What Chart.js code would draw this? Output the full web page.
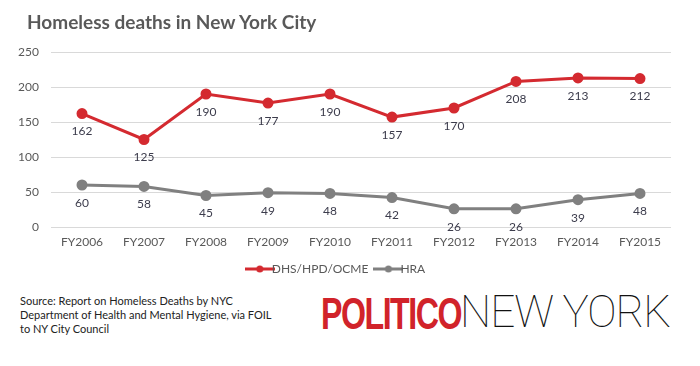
<!DOCTYPE html>
<html>
<head>
<meta charset="utf-8">
<script src="https://cdn.jsdelivr.net/npm/chart.js@4.4.1/dist/chart.umd.min.js"></script>
<style>
  body { margin: 0; background: #fff; font-family: Lato, "Open Sans", sans-serif; }
  #title { position: absolute; left: 27px; top: 10px; font-size: 19px; line-height: 24px; font-weight: bold; color: #595959; }
  #wrap { position: absolute; left: 0; top: 0; width: 700px; height: 285px; }
  #source { position: absolute; left: 20px; top: 294px; font-size: 11px; line-height: 14px; color: #222; }
  #logo { position: absolute; left: 321px; top: 289px; white-space: nowrap; font-size: 44px; line-height: 46px; }
  #logo span { display: inline-block; transform-origin: 0 50%; }
  #logo .p { color: #d1232a; font-family: "Liberation Sans", sans-serif; font-weight: bold; letter-spacing: -2px; transform: scaleX(0.73); }
  #logo .n { position: absolute; left: 139px; top: 0; color: #111; font-family: "Roboto", sans-serif; font-weight: 100; letter-spacing: -1px; }
</style>
</head>
<body>
<div id="wrap"><canvas id="chart"></canvas></div>
<div id="title">Homeless deaths in New York City</div>
<div id="source">Source: Report on Homeless Deaths by NYC<br>Department of Health and Mental Hygiene, via FOIL<br>to NY City Council</div>
<div id="logo"><span class="p">POLITICO</span><span class="n">NEW YORK</span></div>
<script>
const years = ["FY2006", "FY2007", "FY2008", "FY2009", "FY2010", "FY2011", "FY2012", "FY2013", "FY2014", "FY2015"];
const dhsDeaths = [162, 125, 190, 177, 190, 157, 170, 208, 213, 212];
const hraDeaths = [60, 58, 45, 49, 48, 42, 26, 26, 39, 48];

const RED = "#d42a30";
const GRAY = "#808080";
const FONT = "Lato, 'Open Sans', sans-serif";

// small line+dot swatch for the legend
function swatch(color) {
  const c = document.createElement("canvas");
  c.width = 30; c.height = 10;
  const g = c.getContext("2d");
  g.strokeStyle = color; g.lineWidth = 3;
  g.beginPath(); g.moveTo(0, 5); g.lineTo(30, 5); g.stroke();
  g.fillStyle = color;
  g.beginPath(); g.arc(15, 5, 3.5, 0, Math.PI * 2); g.fill();
  return c;
}
const swatches = [swatch(RED), swatch(GRAY)];

// value labels under each point
const valueLabels = {
  id: "valueLabels",
  afterDatasetsDraw(chart) {
    const ctx = chart.ctx;
    ctx.save();
    ctx.font = "12px " + FONT;
    ctx.fillStyle = "#3c3c4c";
    ctx.textAlign = "center";
    ctx.textBaseline = "middle";
    chart.data.datasets.forEach((ds, i) => {
      chart.getDatasetMeta(i).data.forEach((pt, j) => {
        ctx.fillText(ds.data[j], pt.x, pt.y + 18);
      });
    });
    ctx.restore();
  }
};

const ctx = document.getElementById("chart").getContext("2d");
const chart = new Chart(ctx, {
  type: "line",
  data: {
    labels: years,
    datasets: [
      { label: "DHS/HPD/OCME", data: dhsDeaths, borderColor: RED, backgroundColor: RED,
        borderWidth: 3, pointRadius: 4, pointHoverRadius: 4 },
      { label: "HRA", data: hraDeaths, borderColor: GRAY, backgroundColor: GRAY,
        borderWidth: 3, pointRadius: 4, pointHoverRadius: 4 }
    ]
  },
  options: {
    responsive: true,
    maintainAspectRatio: false,
    animation: false,
    layout: { padding: { left: 8, right: 29, top: 52, bottom: 0 } },
    elements: { line: { tension: 0 } },
    plugins: {
      legend: {
        position: "bottom",
        labels: {
          usePointStyle: true,
          color: "#595959",
          font: { family: FONT, size: 12 },
          padding: 14,
          generateLabels(chart) {
            return chart.data.datasets.map((ds, i) => ({
              text: ds.label, pointStyle: swatches[i], fillStyle: ds.borderColor,
              strokeStyle: ds.borderColor, lineWidth: 0, datasetIndex: i, fontColor: "#595959"
            }));
          }
        }
      },
      tooltip: { enabled: false }
    },
    scales: {
      x: {
        offset: true,
        grid: { display: false, drawTicks: false },
        border: { display: false },
        ticks: { color: "#595959", font: { family: FONT, size: 12 }, padding: 8 },
        afterFit(scale) { scale.height = 22; }
      },
      y: {
        min: 0, max: 250,
        grid: { color: "#d9d9d9", drawTicks: false },
        border: { display: false },
        ticks: { stepSize: 50, color: "#595959", font: { family: FONT, size: 12 }, padding: 12 },
        afterFit(scale) { scale.width = 43; }
      }
    }
  },
  plugins: [valueLabels]
});
</script>
</body>
</html>
